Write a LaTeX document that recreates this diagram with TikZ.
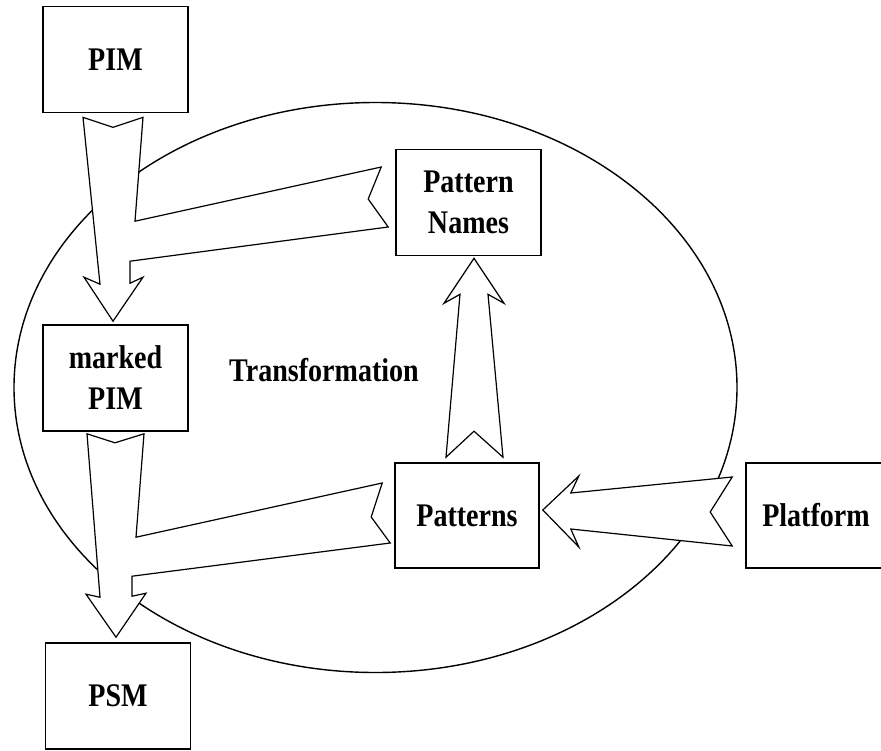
\documentclass[tikz,border=0pt]{standalone}
\usepackage{fontspec}
\setmainfont[FakeStretch=0.85]{Liberation Serif}
\usetikzlibrary{shapes.geometric,calc}

\tikzset{
  box/.style={draw=black, line width=1.6pt, fill=white, rectangle, inner sep=0pt,
              minimum width=145pt, minimum height=106pt, align=center,
              font=\fontsize{33}{41}\selectfont\bfseries},
  label/.style={inner sep=0pt, font=\fontsize{33}{41}\selectfont\bfseries},
  ring/.style={draw=black, line width=1.4pt, ellipse, inner sep=0pt},
  blockarrow/.style={draw=black, fill=white, line width=1.2pt, line join=miter}
}

\begin{document}
\begin{tikzpicture}[x=1pt, y=-1pt]
  \useasboundingbox (0,0) rectangle (881,750);

  % the transformation region
  \node[ring, minimum width=723pt, minimum height=570pt] (ring) at (375.5,387.5) {};
  \node[label] (trans) at (324,370) {Transformation};

  % models and inputs
  \node[box] (pim)      at (115.5,59.5)  {PIM};
  \node[box] (mpim)     at (115.5,378)   {marked\\PIM};
  \node[box] (psm)      at (118,696)     {PSM};
  \node[box] (pnames)   at (468.5,202.5) {Pattern\\Names};
  \node[box, minimum width=144pt, minimum height=105pt] (patterns) at (467,515.5) {Patterns};
  \node[box, minimum width=140pt, minimum height=105pt] (platform) at (816,515.5) {Platform};

  % PIM + Pattern Names -> marked PIM
  \draw[blockarrow]
    ($(pim.south)+(-32.5,4)$) -- ($(pim.south)+(-2.5,14)$) -- ($(pim.south)+(27.5,4)$)
    -- ($(mpim.north)+(19.5,-103)$)
    -- ($(pnames.west)+(-14,-35.5)$) -- ($(pnames.west)+(-27,-3.5)$) -- ($(pnames.west)+(-7,24.5)$)
    -- ($(mpim.north)+(14.5,-63)$) -- ($(mpim.north)+(14.5,-41)$)
    -- ($(mpim.north)+(27.5,-47)$) -- ($(mpim.north)+(-2.5,-3)$) -- ($(mpim.north)+(-31.5,-47)$)
    -- ($(mpim.north)+(-15.5,-40)$) -- cycle;

  % marked PIM + Patterns -> PSM
  \draw[blockarrow]
    ($(mpim.south)+(-28.5,2)$) -- ($(mpim.south)+(-0.5,11)$) -- ($(mpim.south)+(28.5,2)$)
    -- ($(psm.north)+(18,-105)$)
    -- ($(patterns.west)+(-12,-32.5)$) -- ($(patterns.west)+(-23,1.5)$) -- ($(patterns.west)+(-4,27.5)$)
    -- ($(psm.north)+(14,-66)$) -- ($(psm.north)+(14,-46)$)
    -- ($(psm.north)+(28,-49)$) -- ($(psm.north)+(-2,-5)$) -- ($(psm.north)+(-32,-48)$)
    -- ($(psm.north)+(-18,-45)$) -- cycle;

  % Patterns -> Pattern Names
  \draw[blockarrow]
    ($(patterns.north)+(-21,-5)$) -- ($(patterns.north)+(7,-31)$) -- ($(patterns.north)+(36,-5)$)
    -- ($(pnames.south)+(19.5,38)$) -- ($(pnames.south)+(35.5,47)$) -- ($(pnames.south)+(5.5,2)$)
    -- ($(pnames.south)+(-24.5,47)$) -- ($(pnames.south)+(-8.5,38)$) -- cycle;

  % Platform -> Patterns
  \draw[blockarrow]
    ($(patterns.east)+(3,-5.5)$) -- ($(patterns.east)+(39,-39.5)$) -- ($(patterns.east)+(31,-22.5)$)
    -- ($(platform.west)+(-13,-38.5)$) -- ($(platform.west)+(-35,-3.5)$) -- ($(platform.west)+(-13,30.5)$)
    -- ($(patterns.east)+(31,13.5)$) -- ($(patterns.east)+(39,31.5)$) -- cycle;
\end{tikzpicture}
\end{document}
